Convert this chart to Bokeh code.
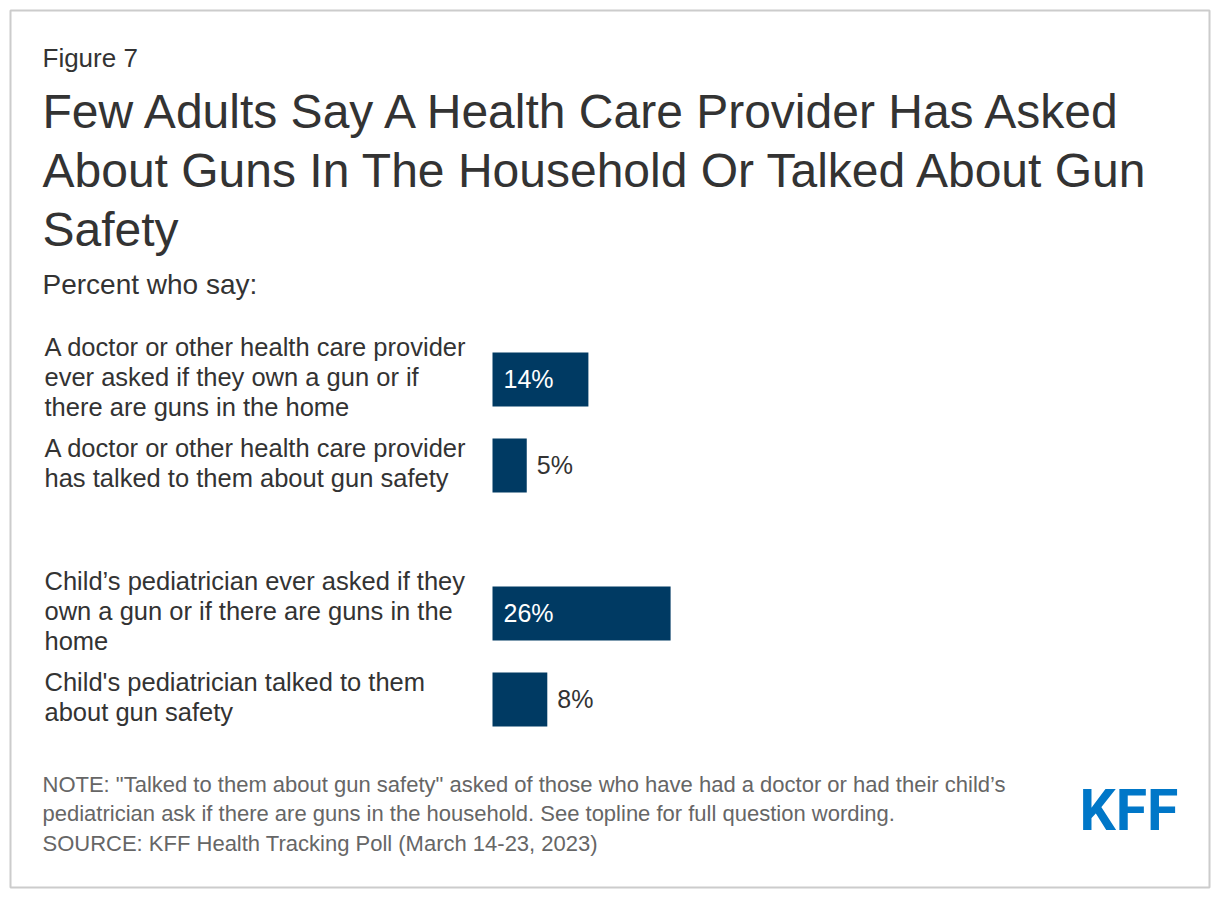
from bokeh.plotting import figure
from bokeh.models import Range1d, ColumnDataSource
from bokeh.core.properties import value
from bokeh.embed import file_html
from bokeh.resources import INLINE

# ---------------- data ----------------
figure_label = "Figure 7"
title_lines = [
    "Few Adults Say A Health Care Provider Has Asked",
    "About Guns In The Household Or Talked About Gun",
    "Safety",
]
subtitle = "Percent who say:"
categories = [
    ["A doctor or other health care provider", "ever asked if they own a gun or if", "there are guns in the home"],
    ["A doctor or other health care provider", "has talked to them about gun safety"],
    ["Child\u2019s pediatrician ever asked if they", "own a gun or if there are guns in the", "home"],
    ["Child's pediatrician talked to them", "about gun safety"],
]
groups = [0, 0, 1, 1]
values = [14, 5, 26, 8]
value_labels = ["14%", "5%", "26%", "8%"]
notes = [
    'NOTE: "Talked to them about gun safety" asked of those who have had a doctor or had their child\u2019s',
    "pediatrician ask if there are guns in the household. See topline for full question wording.",
    "SOURCE: KFF Health Tracking Poll (March 14-23, 2023)",
]
logo = "KFF"

# ---------------- layout constants (page pixels) ----------------
W, H = 1212, 889
FL, FT, FR, FB = 10, 10, 1209, 887      # frame box on the page
X0 = 492                                # page x of 0%
PX_PCT = 6.85                           # pixels per percent
Y0 = 379                                # page y of first bar centre
ROW = 86                                # pixels between bars in a group
GAP = 62 / ROW                          # extra gap between groups
BAR_H = 54 / ROW
BASE_FIX = 0.40                         # baseline correction (em)
LINE = 30                               # label line spacing (px)

FONT = value("Liberation Sans")
DARK = "#333333"
GREY = "#666666"
BAR = "#003a63"
BLUE = "#0077c8"


def dx(px):
    return (px - X0) / PX_PCT


def dy(py):
    return (py - Y0) / ROW


p = figure(
    width=W, height=H,
    x_range=Range1d(dx(FL), dx(FR)),
    y_range=Range1d(dy(FB), dy(FT)),
    x_axis_type=None, y_axis_type=None,
    toolbar_location=None, output_backend="svg",
    min_border_left=FL, min_border_top=FT,
    min_border_right=W - FR, min_border_bottom=H - FB,
)
p.outline_line_color = "#cccccc"
p.outline_line_width = 2
p.background_fill_color = "white"
p.border_fill_color = "white"

pos = [i + g * GAP for i, g in enumerate(groups)]

# bars
p.hbar(y=pos, left=0, right=values, height=BAR_H, fill_color=BAR, line_color=None)


def txt(xs, ys, texts, size, color, align="left", style="normal", font=FONT):
    fix = BASE_FIX * size / ROW
    src = ColumnDataSource(dict(x=xs, y=[y - fix for y in ys], t=texts))
    p.text(x="x", y="y", text="t", source=src, text_font=font, text_font_size=f"{size}px",
           text_color=color, text_align=align, text_baseline="alphabetic",
           text_font_style=style)


# header texts
txt([dx(42)], [dy(68)], [figure_label], 26, DARK)
txt([dx(42)] * 3, [dy(130.5), dy(189), dy(248)], title_lines, 48, DARK)
txt([dx(42)], [dy(295)], [subtitle], 28, DARK)

# category labels (block vertically centred on its bar)
lx, ly, lt = [], [], []
for c, lines in zip(pos, categories):
    n = len(lines)
    first = c + (8 - (n - 1) * LINE / 2) / ROW
    for k, line in enumerate(lines):
        lx.append(dx(44))
        ly.append(first + k * LINE / ROW)
        lt.append(line)
txt(lx, ly, lt, 25.5, DARK)

# value labels
ix, iy, it = [], [], []
ox, oy, ot = [], [], []
for c, v, lab in zip(pos, values, value_labels):
    if v >= 10:
        ix.append(11 / PX_PCT); iy.append(c + 9 / ROW); it.append(lab)
    else:
        ox.append(v + 10 / PX_PCT); oy.append(c + 9 / ROW); ot.append(lab)
txt(ix, iy, it, 25, "white")
txt(ox, oy, ot, 25, DARK)

# notes
txt([dx(42)] * 3, [dy(793), dy(822), dy(852)], notes, 22, GREY)

# logo
txt([dx(1128.5)], [dy(832.5)], [logo], 57, BLUE, align="center", style="bold",
    font=value("Roboto"))

open("out.html", "w").write(file_html(p, INLINE))
